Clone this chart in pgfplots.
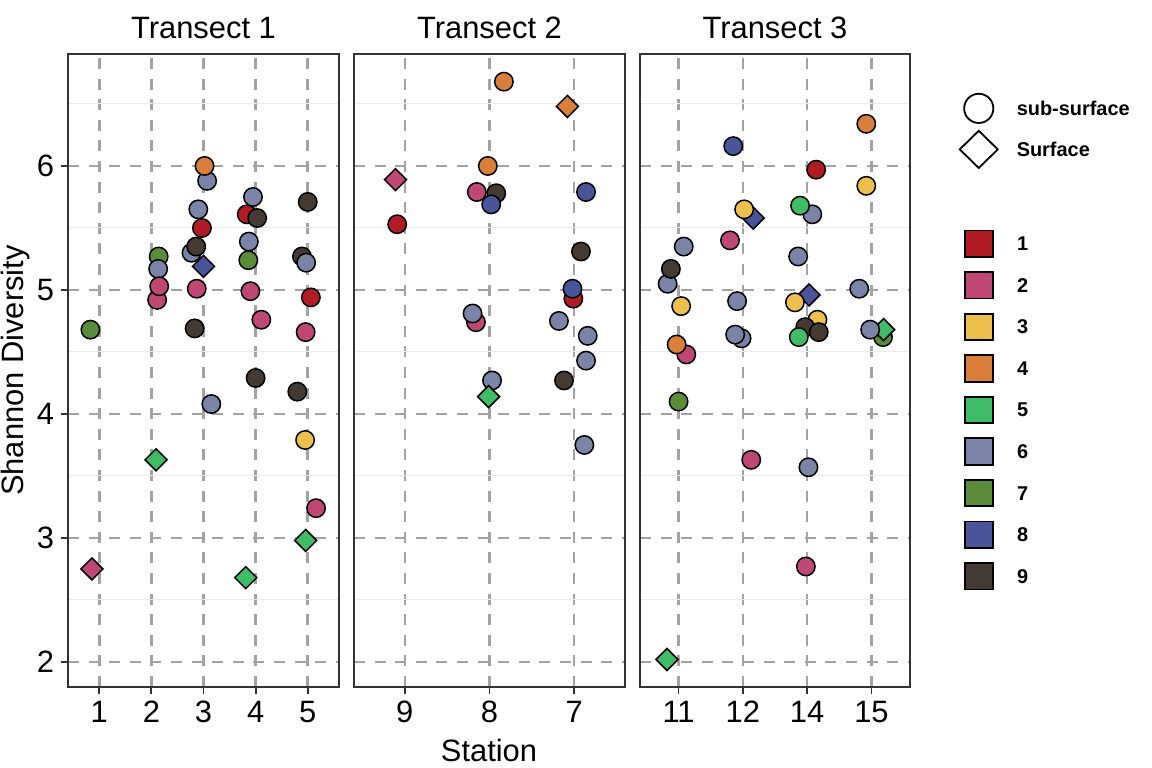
\documentclass[border=0pt]{standalone}
\usepackage{fontspec}
\setmainfont{Liberation Sans}
\usepackage{pgfplots}
\usepackage{pgfplotstable}
\pgfplotsset{compat=1.18}

\definecolor{col1}{HTML}{B01B24}
\definecolor{col2}{HTML}{BE4873}
\definecolor{col3}{HTML}{EDBF4D}
\definecolor{col4}{HTML}{DA7F3B}
\definecolor{col5}{HTML}{3EBD66}
\definecolor{col6}{HTML}{7B83A6}
\definecolor{col7}{HTML}{5B8C39}
\definecolor{col8}{HTML}{4A5499}
\definecolor{col9}{HTML}{433A33}
\definecolor{gridgray}{HTML}{A3A3A3}
\definecolor{minorgray}{HTML}{EBEBEB}
\definecolor{framegray}{HTML}{333333}

\pgfdeclareplotmark{gdia}{%
  \pgfpathmoveto{\pgfqpoint{0bp}{5.5bp}}%
  \pgfpathlineto{\pgfqpoint{5.5bp}{0bp}}%
  \pgfpathlineto{\pgfqpoint{0bp}{-5.5bp}}%
  \pgfpathlineto{\pgfqpoint{-5.5bp}{0bp}}%
  \pgfpathclose
  \pgfusepathqfillstroke}

\pgfplotstableread{
x y c
0.83 4.68 c7
0.86 2.75 d2
2.14 5.27 c7
2.13 5.17 c6
2.11 4.92 c2
2.15 5.03 c2
2.09 3.63 d5
3.07 5.88 c6
3.02 6.00 c4
2.90 5.65 c6
2.97 5.50 c1
2.77 5.30 c6
2.86 5.35 c9
3.00 5.19 d8
2.87 5.01 c2
2.83 4.69 c9
3.15 4.08 c6
3.83 5.61 c1
3.95 5.75 c6
4.03 5.58 c9
3.87 5.39 c6
3.86 5.24 c7
3.90 4.99 c2
4.11 4.76 c2
4.00 4.29 c9
3.81 2.68 d5
5.00 5.71 c9
4.89 5.27 c9
4.97 5.22 c6
5.06 4.94 c1
4.96 4.66 c2
4.80 4.18 c9
4.95 3.79 c3
5.16 3.24 c2
4.96 2.98 d5
}\tA

\pgfplotstableread{
x y c
0.89 5.89 d2
0.91 5.53 c1
2.17 6.68 c4
1.98 6.00 c4
2.08 5.78 c9
1.85 5.79 c2
2.02 5.69 c8
1.84 4.74 c2
1.80 4.81 c6
2.03 4.27 c6
1.99 4.14 d5
2.92 6.48 d4
3.14 5.79 c8
3.08 5.31 c9
2.99 4.93 c1
2.98 5.01 c8
2.82 4.75 c6
3.16 4.63 c6
3.14 4.43 c6
2.88 4.27 c9
3.12 3.75 c6
}\tB

\pgfplotstableread{
x y c
1.08 5.35 c6
0.83 5.05 c6
0.88 5.17 c9
1.04 4.87 c3
1.12 4.48 c2
0.97 4.56 c4
1.00 4.10 c7
0.82 2.02 d5
1.85 6.16 c8
2.16 5.58 d8
2.02 5.65 c3
1.80 5.40 c2
1.91 4.91 c6
1.98 4.61 c6
1.88 4.64 c6
2.13 3.63 c2
3.14 5.97 c1
3.08 5.61 c6
2.89 5.68 c5
2.86 5.27 c6
3.03 4.96 d8
2.81 4.90 c3
3.16 4.76 c3
2.97 4.70 c9
2.87 4.62 c5
3.18 4.66 c9
3.02 3.57 c6
2.98 2.77 c2
3.92 6.34 c4
3.92 5.84 c3
3.81 5.01 c6
4.18 4.62 c7
4.19 4.68 d5
3.98 4.68 c6
}\tC

\pgfplotsset{
  facet/.style={
    scale only axis, height=316.5bp, anchor=south west,
    ymin=1.798, ymax=6.903,
    ytick={2,3,4,5,6}, minor ytick={2.5,3.5,4.5,5.5,6.5},
    grid=both,
    major grid style={color=gridgray, line width=1.3bp, dash pattern=on 5.5bp off 4.8bp},
    minor grid style={color=minorgray, line width=0.5bp},
    axis line style={color=framegray, line width=0.65bp},
    tick align=outside, major tick length=3.5bp, minor tick length=0pt,
    tick style={color=framegray, line width=0.9bp},
    xtick pos=left, ytick pos=left,
    ticklabel style={font=\fontsize{15.5}{18}\selectfont, text=black},
    scatter/classes={
      c1={mark=*,fill=col1,draw=black}, d1={mark=gdia,fill=col1,draw=black},
      c2={mark=*,fill=col2,draw=black}, d2={mark=gdia,fill=col2,draw=black},
      c3={mark=*,fill=col3,draw=black}, d3={mark=gdia,fill=col3,draw=black},
      c4={mark=*,fill=col4,draw=black}, d4={mark=gdia,fill=col4,draw=black},
      c5={mark=*,fill=col5,draw=black}, d5={mark=gdia,fill=col5,draw=black},
      c6={mark=*,fill=col6,draw=black}, d6={mark=gdia,fill=col6,draw=black},
      c7={mark=*,fill=col7,draw=black}, d7={mark=gdia,fill=col7,draw=black},
      c8={mark=*,fill=col8,draw=black}, d8={mark=gdia,fill=col8,draw=black},
      c9={mark=*,fill=col9,draw=black}, d9={mark=gdia,fill=col9,draw=black}
    },
  },
  pts/.style={scatter, only marks, point meta=explicit symbolic, mark size=4.6bp,
    mark options={line width=0.75bp}},
  legbase/.style={hide axis, scale only axis, width=576bp, height=384bp, anchor=south west, at={(0,0)},
    xmin=0, xmax=1, ymin=0, ymax=1},
}

\newcommand{\sqkey}[1]{\addlegendimage{legend image code/.code={\path[draw=none,fill=none] (0bp,-10bp) rectangle (20bp,10bp);
  \draw[black, fill=#1, line width=0.9bp] (3.1bp,-6.6bp) rectangle (16.9bp,6.6bp);}}}

\begin{document}
\begin{tikzpicture}
\useasboundingbox (0,0) rectangle (576bp,384bp);

\begin{axis}[facet, at={(34bp,40.5bp)}, width=135.5bp,
  xmin=0.4, xmax=5.6, xtick={1,2,3,4,5}, xticklabels={1,2,3,4,5},
  yticklabels={2,3,4,5,6}]
\addplot[pts] table[x=x, y=y, meta=c] {\tA};
\end{axis}

\begin{axis}[facet, at={(177bp,40.5bp)}, width=135.5bp,
  xmin=0.4, xmax=3.6, xtick={1,2,3}, xticklabels={9,8,7},
  yticklabels={}, ytick style={draw=none}]
\addplot[pts] table[x=x, y=y, meta=c] {\tB};
\end{axis}

\begin{axis}[facet, at={(320bp,40.5bp)}, width=135bp,
  xmin=0.4, xmax=4.6, xtick={1,2,3,4}, xticklabels={11,12,14,15},
  yticklabels={}, ytick style={draw=none}]
\addplot[pts] table[x=x, y=y, meta=c] {\tC};
\end{axis}

% strip titles and axis titles
\node[anchor=base, font=\fontsize{15.5}{18}\selectfont] at (101.75bp,364.5bp) {Transect 1};
\node[anchor=base, font=\fontsize{15.5}{18}\selectfont] at (244.75bp,364.5bp) {Transect 2};
\node[anchor=base, font=\fontsize{15.5}{18}\selectfont] at (387.5bp,364.5bp) {Transect 3};
\node[anchor=base, font=\fontsize{15.5}{18}\selectfont] at (244.5bp,3.5bp) {Station};
\node[anchor=base, rotate=90, font=\fontsize{15.5}{18}\selectfont] at (11.5bp,198.75bp) {Shannon Diversity};

% shape legend
\begin{axis}[legbase,
  legend style={at={(0.8319,0.8854)}, anchor=north west, draw=none, fill=none,
    inner sep=0pt, row sep=0.5bp, column sep=9bp,
    font=\fontsize{10}{12}\selectfont\bfseries,
    nodes={inner sep=0pt, text depth=0pt}, cells={anchor=west}}]
\addlegendimage{legend image code/.code={\path[draw=none,fill=none] (0bp,-10bp) rectangle (20bp,10bp);
  \draw[black, fill=white, line width=0.9bp] (10bp,0bp) circle (7.3bp);}}
\addlegendentry{sub-surface}
\addlegendimage{legend image code/.code={\path[draw=none,fill=none] (0bp,-10bp) rectangle (20bp,10bp);
  \draw[black, fill=white, line width=0.9bp] (0.5bp,0bp) -- (10bp,9.3bp) -- (19.5bp,0bp) -- (10bp,-9.3bp) -- cycle;}}
\addlegendentry{Surface}
\end{axis}

% colour legend
\begin{axis}[legbase,
  legend style={at={(0.8321,0.7091)}, anchor=north west, draw=none, fill=none,
    inner sep=0pt, row sep=0.78bp, column sep=9bp,
    font=\fontsize{10}{12}\selectfont\bfseries,
    nodes={inner sep=0pt, text depth=0pt}, cells={anchor=west}}]
\sqkey{col1}\addlegendentry{1}
\sqkey{col2}\addlegendentry{2}
\sqkey{col3}\addlegendentry{3}
\sqkey{col4}\addlegendentry{4}
\sqkey{col5}\addlegendentry{5}
\sqkey{col6}\addlegendentry{6}
\sqkey{col7}\addlegendentry{7}
\sqkey{col8}\addlegendentry{8}
\sqkey{col9}\addlegendentry{9}
\end{axis}
\end{tikzpicture}
\end{document}
